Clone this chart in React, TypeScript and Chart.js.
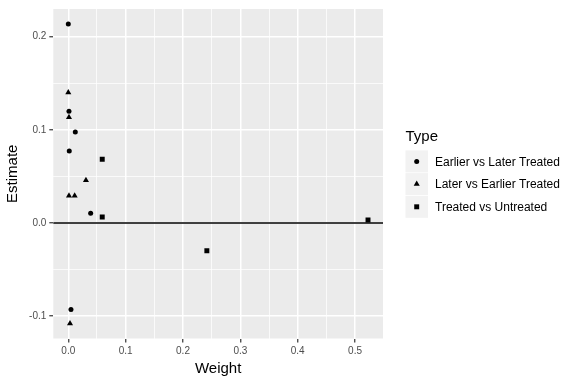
import React, { useEffect, useRef } from "react";
import { Chart, registerables } from "chart.js";

Chart.register(...registerables);

const typeLabels = ["Earlier vs Later Treated", "Later vs Earlier Treated", "Treated vs Untreated"];
const typeShapes = ["circle", "triangle", "rect"];
const typeRadii = [2.5, 3.5, 3.5];

const earlierWeight = [0.0, 0.0012, 0.0122, 0.0017, 0.039, 0.0047];
const earlierEstimate = [0.2136, 0.12, 0.0975, 0.0772, 0.0103, -0.0929];
const laterWeight = [0.0, 0.0012, 0.0308, 0.0012, 0.0111, 0.003];
const laterEstimate = [0.14, 0.1135, 0.0459, 0.0292, 0.0292, -0.108];
const treatedWeight = [0.0592, 0.0592, 0.2416, 0.5226];
const treatedEstimate = [0.0683, 0.0064, -0.0299, 0.0032];

const xTickValues = [0, 0.05, 0.1, 0.15, 0.2, 0.25, 0.3, 0.35, 0.4, 0.45, 0.5];
const yTickValues = [-0.1, -0.05, 0, 0.05, 0.1, 0.15, 0.2];

const FONT = "'Liberation Sans', Arial, Helvetica, sans-serif";

const isMajor = (v: number) => Math.abs(v * 10 - Math.round(v * 10)) < 1e-6;

function expand(vals: number[]) {
  const lo = Math.min(...vals);
  const hi = Math.max(...vals);
  const pad = (hi - lo) * 0.05;
  return [lo - pad, hi + pad];
}

const pairs = (xs: number[], ys: number[]) => xs.map((x, i) => ({ x, y: ys[i] }));

function drawShape(ctx: CanvasRenderingContext2D, shape: string, x: number, y: number, r: number) {
  ctx.beginPath();
  if (shape === "circle") {
    ctx.arc(x, y, r, 0, Math.PI * 2);
  } else if (shape === "triangle") {
    let rad = 0;
    ctx.moveTo(x + Math.sin(rad) * r, y - Math.cos(rad) * r);
    rad += (2 * Math.PI) / 3;
    ctx.lineTo(x + Math.sin(rad) * r, y - Math.cos(rad) * r);
    rad += (2 * Math.PI) / 3;
    ctx.lineTo(x + Math.sin(rad) * r, y - Math.cos(rad) * r);
    ctx.closePath();
  } else {
    const s = Math.SQRT1_2 * r;
    ctx.rect(x - s, y - s, 2 * s, 2 * s);
  }
  ctx.fill();
}

const ggPlugin = {
  id: "ggDecor",
  beforeDraw(chart: any) {
    const { ctx, chartArea } = chart;
    ctx.save();
    ctx.fillStyle = "#EBEBEB";
    ctx.fillRect(chartArea.left, chartArea.top, chartArea.right - chartArea.left, chartArea.bottom - chartArea.top);
    ctx.restore();
  },
  beforeDatasetsDraw(chart: any) {
    const { ctx, chartArea } = chart;
    const y0 = chart.scales.y.getPixelForValue(0);
    ctx.save();
    ctx.strokeStyle = "#000000";
    ctx.lineWidth = 1.5;
    ctx.beginPath();
    ctx.moveTo(chartArea.left, y0);
    ctx.lineTo(chartArea.right, y0);
    ctx.stroke();
    ctx.restore();
  },
  afterDraw(chart: any) {
    const { ctx } = chart;
    ctx.save();
    ctx.fillStyle = "#000000";
    ctx.font = `15px ${FONT}`;
    ctx.textAlign = "left";
    ctx.textBaseline = "alphabetic";
    ctx.fillText("Type", 405.5, 141);
    const centers = [161.4, 184.1, 206.8];
    chart.data.datasets.forEach((ds: any, i: number) => {
      const cy = centers[i];
      ctx.fillStyle = "#F2F2F2";
      ctx.fillRect(405.5, cy - 11, 22.5, 22);
      ctx.fillStyle = "#000000";
      drawShape(ctx, ds.pointStyle, 416.7, cy, ds.pointRadius);
      ctx.font = `12px ${FONT}`;
      ctx.fillText(ds.label, 435, cy + 4.3);
    });
    ctx.restore();
  },
};

export default function App() {
  const ref = useRef<HTMLCanvasElement | null>(null);
  useEffect(() => {
    if (!ref.current) return;
    const [xMin, xMax] = expand([...earlierWeight, ...laterWeight, ...treatedWeight]);
    const [yMin, yMax] = expand([...earlierEstimate, ...laterEstimate, ...treatedEstimate]);
    const series = [
      pairs(earlierWeight, earlierEstimate),
      pairs(laterWeight, laterEstimate),
      pairs(treatedWeight, treatedEstimate),
    ];
    const gridOpts = {
      color: "#FFFFFF",
      lineWidth: (c: any) => (c.tick && isMajor(c.tick.value) ? 1.5 : 0.75),
      tickColor: (c: any) => (c.tick && isMajor(c.tick.value) ? "#333333" : "rgba(0,0,0,0)"),
      tickWidth: 1.2,
      tickLength: 4,
      drawTicks: true,
    };
    const chart = new Chart(ref.current, {
      type: "scatter",
      data: {
        datasets: typeLabels.map((label, i) => ({
          label,
          data: series[i],
          pointStyle: typeShapes[i] as any,
          pointRadius: typeRadii[i],
          pointHoverRadius: typeRadii[i],
          backgroundColor: "#000000",
          borderColor: "#000000",
          borderWidth: 0,
        })),
      },
      options: {
        animation: false,
        responsive: false,
        layout: { padding: { top: 6.7, right: 193, left: 0, bottom: 0 } },
        plugins: { legend: { display: false }, tooltip: { enabled: false } },
        scales: {
          x: {
            type: "linear",
            min: xMin,
            max: xMax,
            afterBuildTicks: (s: any) => {
              s.ticks = xTickValues.map((value) => ({ value }));
            },
            afterFit: (s: any) => {
              s.height = 45.5;
            },
            ticks: {
              autoSkip: false,
              maxRotation: 0,
              padding: 3,
              color: "#4D4D4D",
              font: { family: FONT, size: 10 },
              callback: (v: any) => (isMajor(Number(v)) ? Number(v).toFixed(1) : ""),
            },
            grid: gridOpts as any,
            border: { display: false },
            title: {
              display: true,
              text: "Weight",
              color: "#000000",
              font: { family: FONT, size: 15, lineHeight: 1 },
              padding: { top: 0, bottom: 8 },
            },
          },
          y: {
            type: "linear",
            min: yMin,
            max: yMax,
            afterBuildTicks: (s: any) => {
              s.ticks = yTickValues.map((value) => ({ value }));
            },
            afterFit: (s: any) => {
              s.width = 53.3;
            },
            ticks: {
              autoSkip: false,
              padding: 3,
              color: "#4D4D4D",
              font: { family: FONT, size: 10 },
              callback: (v: any) => (isMajor(Number(v)) ? Number(v).toFixed(1) : ""),
            },
            grid: gridOpts as any,
            border: { display: false },
            title: {
              display: true,
              text: "Estimate",
              color: "#000000",
              font: { family: FONT, size: 15, lineHeight: 1 },
              padding: { top: 5, bottom: 0 },
            },
          },
        },
      },
      plugins: [ggPlugin],
    });
    return () => chart.destroy();
  }, []);
  return (
    <div style={{ position: "absolute", left: 0, top: 0, width: 576, height: 384, background: "#FFFFFF" }}>
      <canvas ref={ref} width={576} height={384} style={{ width: 576, height: 384, display: "block" }} />
    </div>
  );
}
